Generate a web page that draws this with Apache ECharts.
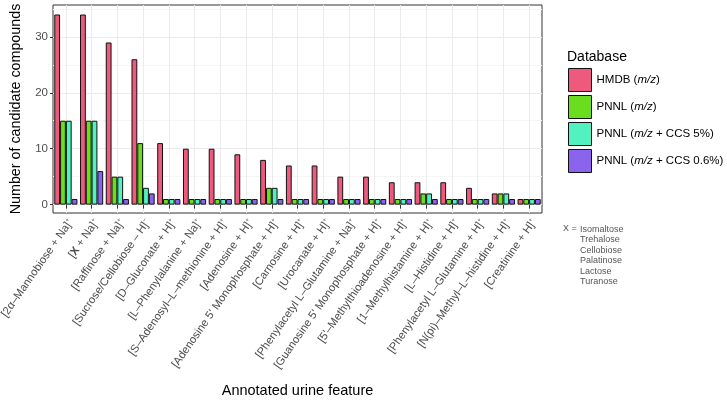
<!DOCTYPE html>
<html><head><meta charset="utf-8">
<script src="https://cdn.jsdelivr.net/npm/echarts@6/dist/echarts.min.js"></script>
<style>html,body{margin:0;padding:0;background:#fff}#c{width:727px;height:400px}</style>
</head><body><div id="c"></div>
<script>
const categories = ['2α–Mannobiose + Na', 'X + Na', 'Raffinose + Na', 'Sucrose/Cellobiose – H', 'D–Gluconate + H', 'L–Phenylalanine + Na', 'S–Adenosyl–L–methionine + H', 'Adenosine + H', "Adenosine 5' Monophosphate + H", 'Carnosine + H', 'Urocanate + H', 'Phenylacetyl L–Glutamine + Na', "Guanosine 5' Monophosphate + H", "5'–Methylthioadenosine + H", '1–Methylhistamine + H', 'L–Histidine + H', 'Phenylacetyl L–Glutamine + H', 'N(pi)–Methyl–L–histidine + H', 'Creatinine + H'];
const charges = ['+','+','+','−','+','+','+','+','+','+','+','+','+','+','+','+','+','+','+'];
const hmdb   = [34, 34, 29, 26, 11, 10, 10, 9, 8, 7, 7, 5, 5, 4, 4, 4, 3, 2, 1];
const pnnl   = [15, 15, 5, 11, 1, 1, 1, 1, 3, 1, 1, 1, 1, 1, 2, 1, 1, 2, 1];
const ccs5   = [15, 15, 5, 3, 1, 1, 1, 1, 3, 1, 1, 1, 1, 1, 2, 1, 1, 2, 1];
const ccs06  = [1, 6, 1, 2, 1, 1, 1, 1, 1, 1, 1, 1, 1, 1, 1, 1, 1, 1, 1];
const seriesNames = ['HMDB (m/z)', 'PNNL (m/z)', 'PNNL (m/z + CCS 5%)', 'PNNL (m/z + CCS 0.6%)'];
const yTicks = [0, 10, 20, 30];
const yMinor = [5, 15, 25, 35];
const xNote = ['Isomaltose', 'Trehalose', 'Cellobiose', 'Palatinose', 'Lactose', 'Turanose'];

const colors = ['#EE5A7E', '#6ADD1E', '#52F2C0', '#8B64EE'];
const FONT = '"Liberation Sans", Arial, sans-serif';
const chart = echarts.init(document.getElementById('c'), null, {renderer: 'canvas'});

function mkSeries(name, data, i) {
  return {
    name: name, type: 'bar', data: data, xAxisIndex: 0, yAxisIndex: 0,
    barGap: '0%', barCategoryGap: '10%',
    itemStyle: {color: colors[i], borderColor: '#111', borderWidth: 1},
    emphasis: {disabled: true}
  };
}

const option = {
  animation: false,
  textStyle: {fontFamily: FONT},
  grid: {left: 53, right: 185, top: 5, height: 208, outerBoundsMode: 'none', containLabel: false,
    show: true, borderColor: '#333', borderWidth: 1, backgroundColor: 'transparent'},
  title: [
    {text: 'Database', left: 567, top: 50, padding: 0, textStyle: {fontFamily: FONT, fontSize: 14, fontWeight: 'normal', color: '#000'}},
    {text: 'X =', left: 563, top: 224, padding: 0, textStyle: {fontFamily: FONT, fontSize: 9, fontWeight: 'normal', color: '#555'}},
    {text: xNote.join('\n'), left: 580, top: 224, padding: 0, textStyle: {fontFamily: FONT, fontSize: 9, fontWeight: 'normal', color: '#555', lineHeight: 10.5}}
  ],
  legend: {
    orient: 'vertical', left: 568, top: 68, padding: 0, itemWidth: 23, itemHeight: 23, itemGap: 3,
    icon: 'rect', selectedMode: false,
    itemStyle: {borderColor: '#111', borderWidth: 1},
    textStyle: {fontFamily: FONT, fontSize: 11.5, color: '#000',
      rich: {i: {fontStyle: 'italic', fontFamily: FONT, fontSize: 11.5, color: '#000'}}},
    formatter: function (n) { return n.replace('m/z', '{i|m/z}'); },
    data: seriesNames
  },
  xAxis: [{
    type: 'category', data: categories,
    name: 'Annotated urine feature', nameLocation: 'middle', nameGap: 170,
    nameTextStyle: {fontFamily: FONT, fontSize: 14.5, color: '#000'},
    axisLine: {show: false},
    axisTick: {show: true, alignWithLabel: true, interval: 0, length: 4, lineStyle: {color: '#333'}},
    splitLine: {show: true, alignWithLabel: true, interval: 0, lineStyle: {color: '#ebebeb', width: 1}},
    axisLabel: {
      interval: 0, rotate: 55, margin: 4, verticalAlign: 'top', fontFamily: FONT, fontSize: 11.2, color: '#4d4d4d',
      formatter: function (v, idx) {
        let body = v.indexOf('X ') === 0 ? '{b|X}' + v.slice(1) : v;
        return '[' + body + ']{s|' + charges[idx] + '}';
      },
      rich: {
        b: {fontWeight: 'bold', fontFamily: FONT, fontSize: 11.2, color: '#4d4d4d'},
        s: {fontSize: 6, fontFamily: FONT, color: '#4d4d4d', verticalAlign: 'top', padding: [0,0,6,0]}
      }
    }
  }],
  yAxis: [{
    type: 'value', min: -1.5, max: 35.7,
    name: 'Number of candidate compounds', nameLocation: 'middle', nameGap: 30,
    nameTextStyle: {fontFamily: FONT, fontSize: 14.3, color: '#000'},
    axisLine: {show: false},
    axisTick: {show: true, length: 3, customValues: yTicks, lineStyle: {color: '#333'}},
    axisLabel: {show: true, customValues: yTicks, margin: 5, fontFamily: FONT, fontSize: 11.5, color: '#4d4d4d'},
    splitLine: {show: true, lineStyle: {color: '#ebebeb', width: 1}}
  }, {
    type: 'value', min: -1.5, max: 35.7, position: 'left',
    axisLine: {show: false}, axisLabel: {show: false},
    axisTick: {show: false, customValues: yMinor},
    splitLine: {show: true, lineStyle: {color: '#f5f5f5', width: 1}}
  }],
  series: [
    mkSeries(seriesNames[0], hmdb, 0),
    mkSeries(seriesNames[1], pnnl, 1),
    mkSeries(seriesNames[2], ccs5, 2),
    mkSeries(seriesNames[3], ccs06, 3)
  ]
};
chart.setOption(option);
</script></body></html>
